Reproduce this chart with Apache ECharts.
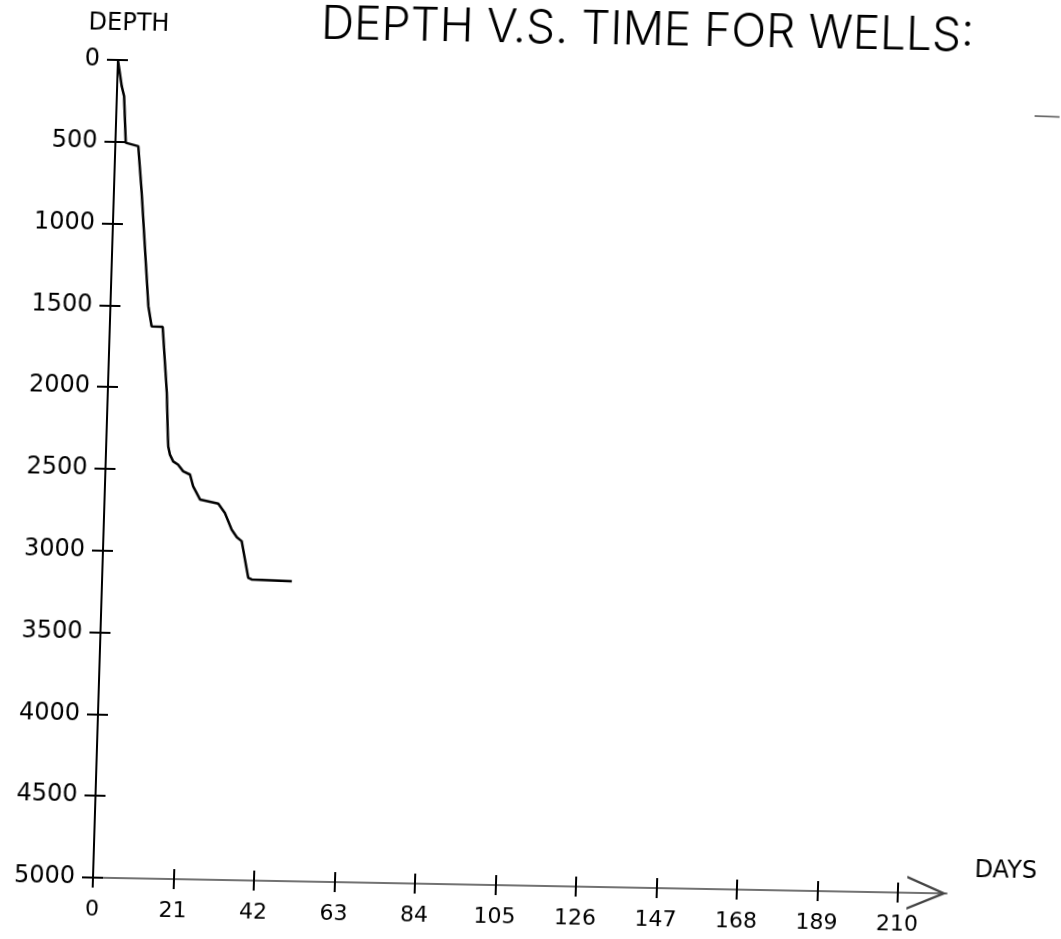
<!DOCTYPE html>
<html><head><meta charset="utf-8">
<script src="https://cdn.jsdelivr.net/npm/echarts@6/dist/echarts.min.js"></script>
<style>
html,body{margin:0;padding:0;background:#fff;overflow:hidden}
#chart{width:1061px;height:939px;transform-origin:93px 878px;transform:matrix(1,0.0186,-0.0305,1,0,0);}
</style></head><body><div id="chart"></div>
<script>
const titleText = 'DEPTH V.S. TIME FOR WELLS:';
const xName = 'DAYS';
const yName = 'DEPTH';
const xTicks = [0, 21, 42, 63, 84, 105, 126, 147, 168, 189, 210];
const yTicks = [0, 500, 1000, 1500, 2000, 2500, 3000, 3500, 4000, 4500, 5000];
const days   = [0, 1.2, 1.9, 2.7, 6.0, 7.25, 8.5, 9.9, 10.9, 13.8, 15.4, 16.0, 16.2, 16.7, 17.6, 18.9, 20.3, 22.1, 23.0, 24.9, 29.7, 31.5, 33.4, 34.8, 36.1, 38.1, 39.0, 49.5];
const depths = [0, 160, 221, 505, 525, 807, 1135, 1502, 1624, 1626, 2029, 2290, 2357, 2406, 2447, 2466, 2507, 2526, 2597, 2677, 2700, 2756, 2857, 2903, 2927, 3150, 3160, 3166];

const chart = echarts.init(document.getElementById('chart'));

const titleFont = '300 46px Inter, "DejaVu Sans", sans-serif';
const ctx = document.createElement('canvas').getContext('2d');
ctx.font = titleFont;
const titleW = ctx.measureText(titleText).width;
const titleScale = 653 / titleW;

const arrowPath = 'path://M0,40 L17,0 L34,40 L31.5,40 L17,6 L2.5,40 Z';
const plain = v => String(v);

chart.setOption({
  animation: false,
  backgroundColor: '#fff',
  grid: { left: 93, top: 60, right: 114, bottom: 61, containLabel: false },
  graphic: [{
    type: 'text', x: 295, y: -2, scaleX: titleScale, scaleY: 1,
    style: { text: titleText, font: titleFont, fill: '#000', textAlign: 'left', textVerticalAlign: 'top' }
  }, {
    type: 'text', x: 974, y: 855,
    style: { text: xName, font: '24px "DejaVu Sans", sans-serif', fill: '#000', textAlign: 'left', textVerticalAlign: 'middle' }
  }, {
    type: 'line', shape: { x1: 1011, y1: 99, x2: 1036, y2: 99.5 },
    style: { stroke: '#555', lineWidth: 1.5 }
  }],
  xAxis: [{
    type: 'value', position: 'bottom', min: 0, max: 222.8,
    axisLine: { show: true, onZero: false, symbol: ['none', arrowPath], symbolSize: [34, 40], symbolOffset: [0, -20],
      lineStyle: { color: '#444', width: 1.5 } },
    axisTick: { show: true, inside: false, length: 10, customValues: xTicks, lineStyle: { color: '#000', width: 2 } },
    axisLabel: { show: true, customValues: xTicks, formatter: plain, margin: 21, fontFamily: 'DejaVu Sans', fontSize: 22, color: '#000' },
    splitLine: { show: false }
  }, {
    type: 'value', position: 'bottom', min: 0, max: 222.8,
    axisLine: { show: false, onZero: false },
    axisTick: { show: true, inside: true, length: 10, customValues: xTicks, lineStyle: { color: '#000', width: 2 } },
    axisLabel: { show: false },
    splitLine: { show: false }
  }],
  yAxis: [{
    type: 'value', position: 'left', inverse: true, min: 0, max: 5000, interval: 500,
    name: yName, nameLocation: 'start', nameGap: 24,
    nameTextStyle: { fontFamily: 'DejaVu Sans', fontSize: 24, color: '#000', padding: [0, 0, 0, 20] },
    axisLine: { show: true, onZero: false, lineStyle: { color: '#000', width: 2 } },
    axisTick: { show: true, inside: false, length: 11, lineStyle: { color: '#000', width: 2 } },
    axisLabel: { show: true, margin: 18, fontFamily: 'DejaVu Sans', fontSize: 24, color: '#000',
      customValues: yTicks, formatter: plain },
    splitLine: { show: false }
  }, {
    type: 'value', position: 'left', inverse: true, min: 0, max: 5000, interval: 500,
    axisLine: { show: false, onZero: false },
    axisTick: { show: true, inside: true, length: 10, lineStyle: { color: '#000', width: 2 } },
    axisLabel: { show: false },
    splitLine: { show: false }
  }],
  series: [{
    type: 'line', xAxisIndex: 0, yAxisIndex: 0,
    data: days.map((d, i) => [d, depths[i]]),
    showSymbol: false, smooth: false, clip: false,
    lineStyle: { color: '#000', width: 2.5 }
  }]
});
</script></body></html>
